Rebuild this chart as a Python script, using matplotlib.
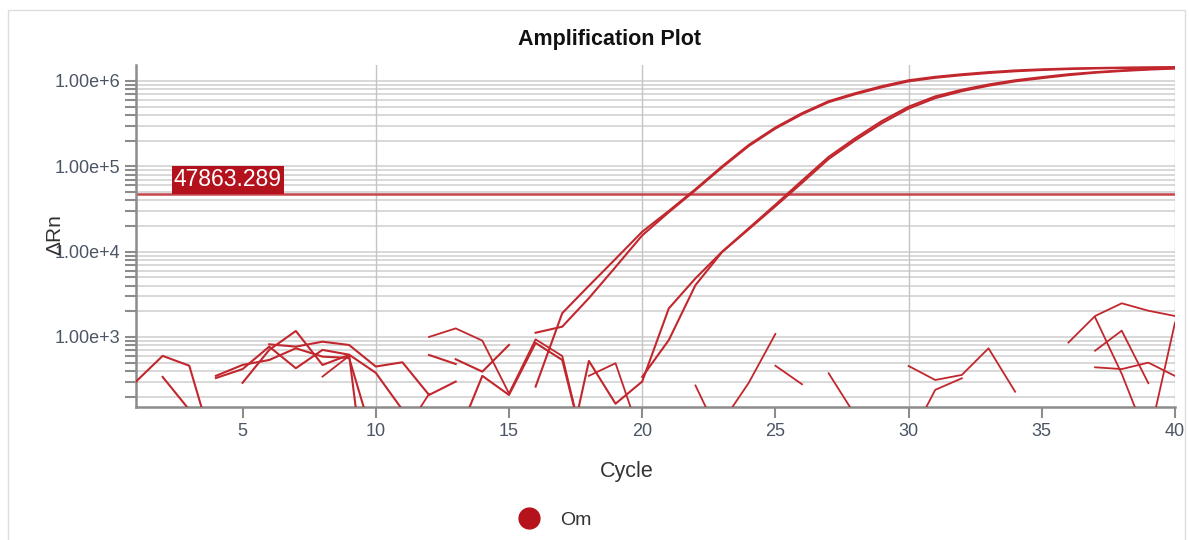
import numpy as np
import matplotlib.pyplot as plt
from matplotlib.patches import Rectangle
from matplotlib.lines import Line2D
from matplotlib.ticker import FixedLocator, FuncFormatter, LogLocator, NullFormatter

plt.rcParams['font.family'] = ['Liberation Sans', 'DejaVu Sans']

# delta Rn per cycle, None = negative value (not drawn on a log axis)
_ = None
cycles = np.arange(1, 41)
threshold = 47863.289
target = 'Om'

well_a1 = [300, 600, 460, 40, _, 820, 770, 880, 805, 450,
           505, 209, 300, _, _, 262, 1900, 3980, 8220, 17100,
           30000, 54000, 100000, 178000, 285000, 420000, 580000, 720000, 870000, 1020000,
           1120000, 1200000, 1270000, 1330000, 1370000, 1400000, 1420000, 1435000, 1445000, 1455000]
well_a2 = [_, 340, 140, _, 290, 705, 1175, 470, 615, 2,
           _, 615, 482, _, _, 1120, 1320, 2850, 6600, 15500,
           29000, 52500, 97000, 173000, 277000, 408000, 565000, 700000, 845000, 990000,
           1090000, 1170000, 1240000, 1300000, 1345000, 1380000, 1405000, 1420000, 1430000, 1440000]
well_b1 = [_, _, _, 350, 470, 537, 736, 588, 567, 50,
           _, _, 548, 392, 806, _, 20, 523, 165, 300,
           2160, 4860, 9980, 18800, 35500, 68000, 129000, 214000, 340000, 500000,
           660000, 790000, 910000, 1020000, 1110000, 1200000, 1270000, 1330000, 1380000, 1420000]
well_b2 = [_, _, _, 330, 420, 770, 430, 705, 620, 380,
           140, _, 60, 350, 209, 850, 537, 30, _, 340,
           920, 4050, 9900, 18300, 34000, 64000, 122000, 202000, 320000, 475000,
           630000, 760000, 880000, 990000, 1080000, 1170000, 1250000, 1310000, 1360000, 1400000]
ntc_1 = [_, _, _, _, _, _, _, _, _, _,
         _, 1000, 1260, 905, 218, 937, 598, 30, _, _,
         _, 270, 60, _, _, _, _, _, _, 457,
         313, 359, 736, 228, _, _, 441, 420, 500, 349]
ntc_2 = [_, _, _, _, _, _, _, _, _, _,
         _, _, _, _, _, _, _, 350, 492, 60,
         _, _, 100, 290, 1085, _, _, _, _, 60,
         240, 328, _, _, _, 860, 1760, 2480, 2030, 1760]
ntc_3 = [_, _, _, _, _, _, _, 343, 600, _,
         _, _, _, _, _, _, _, _, _, _,
         _, _, _, _, 460, 279, _, _, _, _,
         _, _, _, _, _, _, 1700, 370, 60, 1470]
ntc_4 = [_, _, _, _, _, _, _, _, _, _,
         70, 215, _, _, _, _, _, _, _, _,
         _, _, _, _, _, _, 375, 120, _, _,
         _, _, _, _, _, _, 690, 1185, 287, _]

amp_wells = [well_a1, well_a2, well_b1, well_b2]
ntc_wells = [ntc_1, ntc_2, ntc_3, ntc_4]

red = '#c1272d'
W, H = 1189, 540
fig = plt.figure(figsize=(W / 100, H / 100), dpi=100)
ax = fig.add_axes([136 / W, 1 - 407 / H, (1175 - 136) / W, (407 - 65) / H])

for x in [10, 20, 30, 40]:
    ax.axvline(x, color='#c4c4c4', lw=1, zorder=1)

for w in amp_wells:
    ax.plot(cycles, np.array(w, dtype=float), color=red, lw=1.5, zorder=3)
for w in ntc_wells:
    ax.plot(cycles, np.array(w, dtype=float), color=red, lw=1.3, zorder=3)

ax.axhline(threshold, color='#c4464c', lw=1.8, zorder=2)
ax.text(2.42, threshold * 1.06, '47863.289', ha='left', va='bottom', color='white',
        fontsize=16.5, zorder=4,
        bbox=dict(boxstyle='square,pad=0.1', fc='#b3121c', ec='none'))

ax.set_yscale('log')
ax.set_xlim(1, 40)
ax.set_ylim(151, 1.54e6)
ax.yaxis.set_major_locator(FixedLocator([1e3, 1e4, 1e5, 1e6]))
ax.yaxis.set_major_formatter(FuncFormatter(lambda v, p: f'{v:.2e}'.replace('e+0', 'e+')))
ax.yaxis.set_minor_locator(LogLocator(base=10, subs=np.arange(2, 10), numticks=20))
ax.yaxis.set_minor_formatter(NullFormatter())
ax.set_xticks(np.arange(5, 41, 5))
ax.grid(which='both', axis='y', color='#d6d6d6', lw=1.3, zorder=0)
ax.set_axisbelow(True)

for s in ['top', 'right']:
    ax.spines[s].set_visible(False)
for s in ['left', 'bottom']:
    ax.spines[s].set_color('#8c8c8c')
    ax.spines[s].set_linewidth(1.8)
ax.tick_params(which='both', direction='out', length=8, width=1.5, color='#8c8c8c',
               labelcolor='#4b5566', labelsize=13)

fig.text(610 / W, 1 - 40 / H, 'Amplification Plot', ha='center', va='center',
         fontsize=15.5, fontweight='bold', color='#111111')
fig.text(55 / W, 1 - 235 / H, 'ΔRn', rotation=90, ha='center', va='center',
         fontsize=15, color='#333333')
fig.text(627 / W, 1 - 472 / H, 'Cycle', ha='center', va='center',
         fontsize=15.5, color='#333333')

handle = Line2D([], [], marker='o', ls='', color='#b5121b', markersize=15)
fig.legend([handle], [target], loc='center', bbox_to_anchor=(551 / W, 1 - 520 / H),
           frameon=False, fontsize=14, handletextpad=0.6, labelcolor='#333333')

fig.patches.append(Rectangle((8 / W, -0.1), (1185 - 8) / W, 1 - 10 / H + 0.1,
                             transform=fig.transFigure, fill=False, ec='#dcdcdc', lw=1))

fig.savefig('out.png', dpi=100)
